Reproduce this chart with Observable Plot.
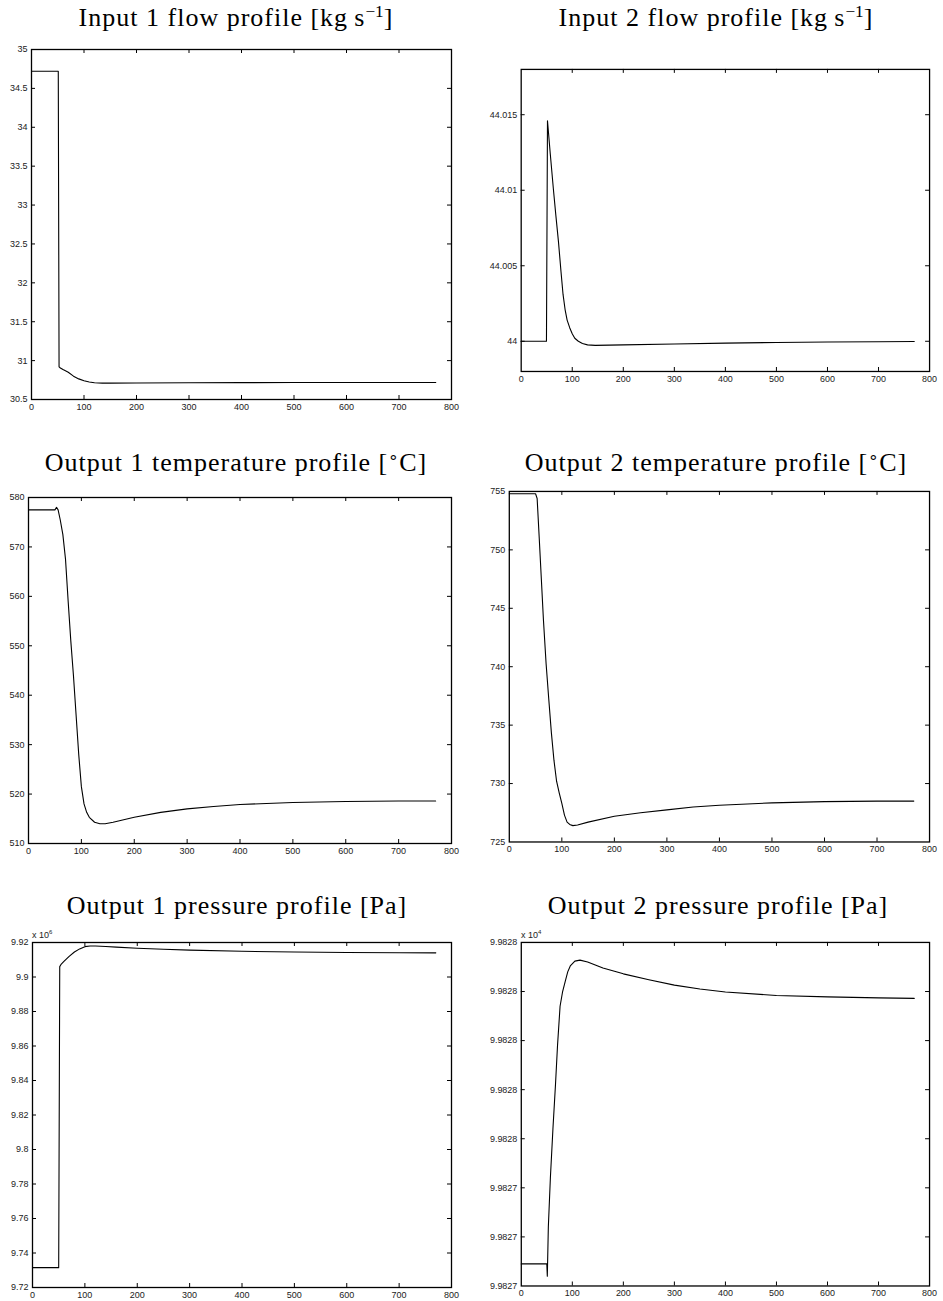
<!DOCTYPE html>
<html><head><meta charset="utf-8">
<script src="https://cdn.jsdelivr.net/npm/d3@7"></script>
<script src="https://cdn.jsdelivr.net/npm/@observablehq/plot@0.6"></script>
<style>
body{margin:0;background:#fff;}
#page{position:relative;width:943px;height:1301px;overflow:hidden;background:#fff;}
.title{position:absolute;transform:translate(-50%,-50%);font-family:"Liberation Serif","Times New Roman",serif;font-size:26px;letter-spacing:1px;white-space:nowrap;color:#000;line-height:1;}
.title sup{font-size:0.66em;vertical-align:0.55em;line-height:0;letter-spacing:0;}
.mult{position:absolute;font-family:"Liberation Sans",Arial,sans-serif;font-size:9px;color:#222;line-height:1;white-space:nowrap;}
.mult sup{font-size:6px;vertical-align:4px;line-height:0;}
.panel{position:absolute;}
</style></head><body><div id="page"></div>
<script>
// ---- shared x axis ----
const xTicks = [0, 100, 200, 300, 400, 500, 600, 700, 800];

// ---- Input 1 flow profile [kg/s] ----
const input1Time = [0, 51, 52.5, 55, 60, 70, 80, 90, 100, 110, 120, 135, 150, 200, 300, 400, 500, 600, 700, 770];
const input1Flow = [34.72, 34.72, 30.92, 30.905, 30.885, 30.85, 30.80, 30.765, 30.74, 30.725, 30.715, 30.71, 30.71, 30.712, 30.715, 30.717, 30.718, 30.718, 30.718, 30.718];
const input1YTicks = [30.5, 31, 31.5, 32, 32.5, 33, 33.5, 34, 34.5, 35];
const input1YLabels = ["30.5", "31", "31.5", "32", "32.5", "33", "33.5", "34", "34.5", "35"];

// ---- Input 2 flow profile [kg/s] ----
const input2Time = [0, 49.5, 51.5, 53, 57, 63, 68, 73, 78, 82, 86, 90, 95, 100, 105, 112, 120, 130, 145, 200, 300, 400, 500, 600, 700, 770];
const input2Flow = [44, 44, 44.0146, 44.0140, 44.0124, 44.0101, 44.0083, 44.0066, 44.0046, 44.0031, 44.0021, 44.0014, 44.0009, 44.0005, 44.0002, 44.0000, 43.99985, 43.99976, 43.99973, 43.99976, 43.99982, 43.99988, 43.99992, 43.99995, 43.99997, 43.99998];
const input2YTicks = [44, 44.005, 44.01, 44.015];
const input2YLabels = ["44", "44.005", "44.01", "44.015"];

// ---- Output 1 temperature profile [°C] ----
const output1Time = [0, 50, 53, 56, 60, 65, 70, 75, 80, 85, 90, 95, 100, 105, 110, 115, 125, 135, 145, 160, 180, 200, 250, 300, 350, 400, 450, 500, 600, 700, 770];
const output1Temp = [577.5, 577.5, 578, 577.5, 575.5, 572.5, 567.5, 559, 551, 544, 536, 528, 521.5, 518, 516.3, 515.3, 514.3, 514, 514, 514.3, 514.8, 515.3, 516.3, 517, 517.5, 517.9, 518.1, 518.3, 518.5, 518.6, 518.6];
const output1YTicks = [510, 520, 530, 540, 550, 560, 570, 580];
const output1YLabels = ["510", "520", "530", "540", "550", "560", "570", "580"];

// ---- Output 2 temperature profile [°C] ----
const output2Time = [0, 50, 53, 57, 61, 65, 70, 75, 80, 85, 90, 95, 100, 105, 110, 115, 121, 130, 150, 200, 250, 300, 350, 400, 500, 600, 700, 770];
const output2Temp = [754.8, 754.8, 754.4, 751, 747.5, 744, 740.3, 737.3, 734.4, 732, 730.2, 729.2, 728.3, 727.3, 726.7, 726.5, 726.4, 726.45, 726.7, 727.2, 727.5, 727.75, 728, 728.15, 728.35, 728.45, 728.5, 728.5];
const output2YTicks = [725, 730, 735, 740, 745, 750, 755];
const output2YLabels = ["725", "730", "735", "740", "745", "750", "755"];

// ---- Output 1 pressure profile [Pa] (x 10^6) ----
const output1PTime = [0, 50, 52, 55, 60, 65, 70, 80, 90, 100, 110, 120, 140, 160, 200, 250, 300, 400, 500, 600, 700, 770];
const output1Pressure = [9.7315, 9.7315, 9.906, 9.9075, 9.909, 9.9105, 9.912, 9.9145, 9.9163, 9.9176, 9.918, 9.918, 9.9177, 9.9173, 9.9167, 9.9161, 9.9156, 9.9149, 9.9145, 9.9142, 9.9141, 9.914];
const output1PYTicks = [9.72, 9.74, 9.76, 9.78, 9.8, 9.82, 9.84, 9.86, 9.88, 9.9, 9.92];
const output1PYLabels = ["9.72", "9.74", "9.76", "9.78", "9.8", "9.82", "9.84", "9.86", "9.88", "9.9", "9.92"];

// ---- Output 2 pressure profile [Pa] ----
const output2PTime = [0, 50, 51, 53, 57, 62, 67, 71, 76, 81, 86, 91, 96, 105, 115, 130, 160, 200, 250, 300, 350, 400, 500, 600, 700, 770];
const output2Pressure = [99827.345, 99827.345, 99827.32, 99827.42, 99827.52, 99827.62, 99827.71, 99827.79, 99827.87, 99827.90, 99827.92, 99827.94, 99827.952, 99827.962, 99827.964, 99827.96, 99827.948, 99827.936, 99827.924, 99827.913, 99827.905, 99827.899, 99827.892, 99827.889, 99827.887, 99827.886];
const output2PYTicks = [99827.3, 99827.4, 99827.5, 99827.6, 99827.7, 99827.8, 99827.9, 99828.0];
const output2PYLabels = ["9.9827", "9.9827", "9.9827", "9.9828", "9.9828", "9.9828", "9.9828", "9.9828"];

// ---- layout ----
const panels = [
  {title: 'Input 1 flow profile [kg&thinsp;s<sup>−1</sup>]', tx: 236, ty: 18,
   box: {left: 31, right: 451, top: 49, bottom: 399}, x: input1Time, y: input1Flow,
   yDomain: [30.5, 35], yTicks: input1YTicks, yLabels: input1YLabels},
  {title: 'Input 2 flow profile [kg&thinsp;s<sup>−1</sup>]', tx: 716, ty: 18,
   box: {left: 521, right: 932, top: 69, bottom: 373}, x: input2Time, y: input2Flow,
   yDomain: [43.998, 44.018], yTicks: input2YTicks, yLabels: input2YLabels},
  {title: 'Output 1 temperature profile [<sup>∘</sup>C]', tx: 236, ty: 463,
   box: {left: 28, right: 451, top: 497, bottom: 843}, x: output1Time, y: output1Temp,
   yDomain: [510, 580], yTicks: output1YTicks, yLabels: output1YLabels},
  {title: 'Output 2 temperature profile [<sup>∘</sup>C]', tx: 716, ty: 463,
   box: {left: 509, right: 931, top: 491, bottom: 843}, x: output2Time, y: output2Temp,
   yDomain: [725, 755], yTicks: output2YTicks, yLabels: output2YLabels},
  {title: 'Output 1 pressure profile [Pa]', tx: 237, ty: 906,
   box: {left: 32, right: 451, top: 942, bottom: 1287}, x: output1PTime, y: output1Pressure,
   yDomain: [9.72, 9.92], yTicks: output1PYTicks, yLabels: output1PYLabels, mult: '6'},
  {title: 'Output 2 pressure profile [Pa]', tx: 718, ty: 906,
   box: {left: 521, right: 931, top: 942, bottom: 1287}, x: output2PTime, y: output2Pressure,
   yDomain: [99827.3, 99828.0], yTicks: output2PYTicks, yLabels: output2PYLabels, mult: '4'}
];

const M = {left: 50, right: 14, top: 14, bottom: 26};
const page = document.getElementById("page");
const T = 4; // tick length (px), drawn inward on all four sides

for (const p of panels) {
  const w = p.box.right - p.box.left, h = p.box.bottom - p.box.top;
  const rows = p.x.map((t, i) => ({t, v: p.y[i]}));
  const yfmt = d => p.yLabels[p.yTicks.indexOf(d)];
  const inner = xTicks.filter((d, i) => i > 0 && i < xTicks.length - 1);
  const innerY = p.yTicks.filter(d => d > p.yDomain[0] && d < p.yDomain[1]);
  const svg = Plot.plot({
    width: w + M.left + M.right, height: h + M.top + M.bottom,
    marginLeft: M.left, marginRight: M.right, marginTop: M.top, marginBottom: M.bottom,
    x: {domain: [0, 800]},
    y: {domain: p.yDomain},
    style: {fontFamily: '"Liberation Sans", Arial, sans-serif', fontSize: "9px", color: "#222", overflow: "visible", background: "none"},
    marks: [
      Plot.axisX({anchor: "bottom", ticks: xTicks, tickSize: 0, tickPadding: 4, label: null, tickFormat: d => String(d)}),
      Plot.axisY({anchor: "left", ticks: p.yTicks, tickSize: 0, tickPadding: 4, label: null, tickFormat: yfmt}),
      // inward ticks: bottom, top, left, right
      Plot.tickX(inner, {x: d => d, stroke: "black", insetTop: h - T}),
      Plot.tickX(inner, {x: d => d, stroke: "black", insetBottom: h - T}),
      Plot.tickY(innerY, {y: d => d, stroke: "black", insetRight: w - T}),
      Plot.tickY(innerY, {y: d => d, stroke: "black", insetLeft: w - T}),
      Plot.line(rows, {x: "t", y: "v", stroke: "black", strokeWidth: 1.1}),
      Plot.frame({stroke: "black", strokeWidth: 1.3})
    ]
  });
  const holder = document.createElement("div");
  holder.className = "panel";
  holder.style.left = (p.box.left - M.left) + "px";
  holder.style.top = (p.box.top - M.top) + "px";
  holder.appendChild(svg);
  page.appendChild(holder);

  const t = document.createElement("div");
  t.className = "title";
  t.style.left = p.tx + "px";
  t.style.top = p.ty + "px";
  t.innerHTML = p.title;
  page.appendChild(t);

  if (p.mult) {
    const m = document.createElement("div");
    m.className = "mult";
    m.style.left = p.box.left + "px";
    m.style.top = (p.box.top - 11) + "px";
    m.innerHTML = 'x 10<sup>' + p.mult + '</sup>';
    page.appendChild(m);
  }
}
</script></body></html>
